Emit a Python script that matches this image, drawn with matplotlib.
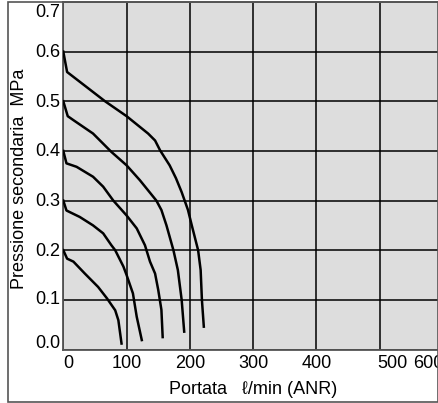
import matplotlib
matplotlib.use("Agg")
import matplotlib.pyplot as plt
from matplotlib.patches import Rectangle

plt.rcParams['font.family'] = ['Liberation Sans', 'DejaVu Sans']

# flow (l/min ANR) vs secondary pressure (MPa), one curve per set pressure
c06_x = [0, 6, 66, 100, 134, 145, 153, 168, 178, 187, 197, 203, 209, 213, 217, 219, 222]
c06_y = [0.60, 0.559, 0.50, 0.47, 0.435, 0.421, 0.401, 0.371, 0.345, 0.317, 0.281, 0.25, 0.22, 0.20, 0.16, 0.10, 0.046]

c05_x = [0, 7, 16, 47, 76, 100, 121, 147, 155, 163, 174, 181, 187, 191]
c05_y = [0.50, 0.47, 0.462, 0.435, 0.398, 0.371, 0.341, 0.30, 0.281, 0.25, 0.20, 0.16, 0.10, 0.036]

c04_x = [0, 5, 21, 47, 63, 79, 100, 116, 129, 137, 145, 150, 155, 157]
c04_y = [0.40, 0.375, 0.368, 0.348, 0.328, 0.30, 0.27, 0.244, 0.21, 0.177, 0.153, 0.12, 0.08, 0.025]

c03_x = [0, 5, 26, 47, 63, 76, 82, 95, 100, 110, 116, 124]
c03_y = [0.30, 0.28, 0.267, 0.25, 0.234, 0.21, 0.20, 0.167, 0.15, 0.113, 0.066, 0.019]

c02_x = [0, 6, 16, 34, 55, 69, 82, 87, 92]
c02_y = [0.20, 0.183, 0.177, 0.153, 0.126, 0.103, 0.079, 0.059, 0.012]

curves = [(c06_x, c06_y), (c05_x, c05_y), (c04_x, c04_y), (c03_x, c03_y), (c02_x, c02_y)]

x_grid = [0, 100, 200, 300, 400, 500]
y_grid = [0.0, 0.1, 0.2, 0.3, 0.4, 0.5, 0.6, 0.7]
y_labels = ['0.0', '0.1', '0.2', '0.3', '0.4', '0.5', '0.6', '0.7']
x_labels = ['0', '100', '200', '300', '400', '500', '600']
# where the labels sit (end labels are pushed inside in the original)
x_label_pos = [0, 100, 200, 300, 400, 520, 577]
y_label_pos = [0.012, 0.1, 0.198, 0.298, 0.398, 0.498, 0.598, 0.679]

fs = 13

fig = plt.figure(figsize=(4.38, 4.03), dpi=100)
ax = fig.add_axes([63.3 / 438, 1 - 349.5 / 403, 1 - 63.3 / 438, (349.5 - 2) / 403])
ax.set_facecolor('#dddddd')

for cx, cy in curves:
    ax.plot(cx, cy, color='black', lw=1.8, solid_joinstyle='round', zorder=3)

ax.set_xlim(0, 592)
ax.set_ylim(0, 0.7)

ax.set_xticks(x_grid)
ax.set_yticks(y_grid)
ax.set_xticklabels([])
ax.set_yticklabels([])
ax.tick_params(axis='both', which='both', length=0)
ax.grid(True, which='major', color='black', lw=1.1, zorder=1)
ax.set_axisbelow(True)

# tick labels drawn as text next to the axes
xtrans = ax.get_xaxis_transform()
for i, (pos, lab) in enumerate(zip(x_label_pos, x_labels)):
    ax.text(pos, -0.016, lab, transform=xtrans, ha='left' if i == 0 else 'center', va='top',
            fontsize=fs, clip_on=False)
ytrans = ax.get_yaxis_transform()
for pos, lab in zip(y_label_pos, y_labels):
    ax.text(-0.009, pos, lab, transform=ytrans, ha='right', va='center',
            fontsize=fs, clip_on=False)

for s in ['left', 'bottom', 'top']:
    ax.spines[s].set_color('#555555')
    ax.spines[s].set_linewidth(1.3)
ax.spines['right'].set_visible(False)

fig.text(253 / 438, 1 - 389 / 403, 'Portata   ℓ/min (ANR)', ha='center', va='center', fontsize=fs)
fig.text(20 / 438, 1 - 179 / 403, 'Pressione secondaria  MPa', ha='center', va='center',
         rotation=90, fontsize=fs)

# outer frame
fig.patches.append(Rectangle((8 / 438, 1.5 / 403), 1 - 8.5 / 438, 1 - 3 / 403, transform=fig.transFigure,
                             fill=False, edgecolor='#555555', lw=1.2))

fig.savefig('out.png', dpi=100)
